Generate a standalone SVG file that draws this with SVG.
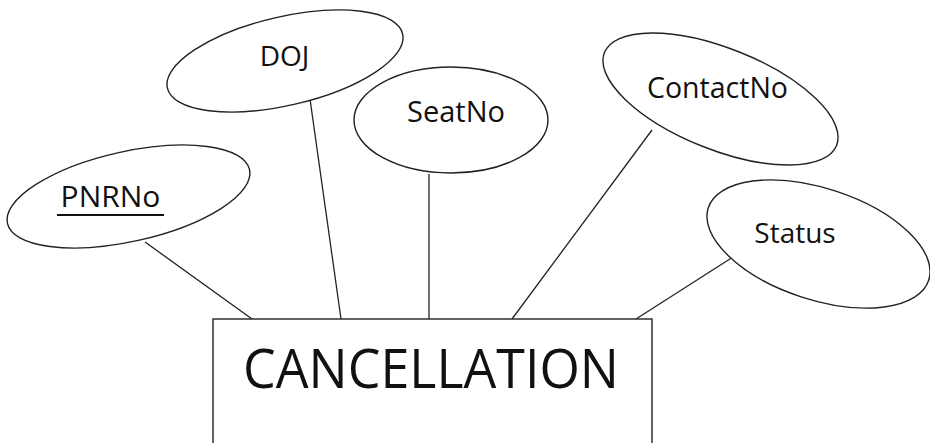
<svg xmlns="http://www.w3.org/2000/svg" width="930" height="443" viewBox="0 0 930 443">
<style>
.shape{fill:#fff;stroke:#222;stroke-width:1.4}
.conn{stroke:#222;stroke-width:1.3;fill:none}
.lbl{font-family:"Open Sans","Noto Sans",sans-serif;fill:#111;text-anchor:middle}
</style>
<rect x="0" y="0" width="930" height="443" fill="#fff"/>
<g id="connectors">
<line class="conn" x1="145" y1="242" x2="252" y2="319"/>
<line class="conn" x1="310" y1="99" x2="341" y2="319"/>
<line class="conn" x1="429" y1="174" x2="429" y2="319"/>
<line class="conn" x1="652" y1="130" x2="512" y2="319"/>
<line class="conn" x1="733" y1="257" x2="636" y2="319"/>
</g>
<g id="pnrno">
<ellipse class="shape" cx="128.5" cy="196.5" rx="124" ry="45" transform="rotate(-12.5 128.5 196.5)"/>
<text class="lbl" x="110.5" y="207" font-size="30">PNRNo</text>
<line x1="57" y1="215" x2="164" y2="215" stroke="#111" stroke-width="2"/>
</g>
<g id="doj">
<ellipse class="shape" cx="285" cy="61" rx="120.7" ry="44.3" transform="rotate(-13 285 61)"/>
<text class="lbl" x="284.5" y="66" font-size="28">DOJ</text>
</g>
<g id="seatno">
<ellipse class="shape" cx="451" cy="120" rx="97" ry="53"/>
<text class="lbl" x="456" y="122" font-size="29">SeatNo</text>
</g>
<g id="contactno">
<ellipse class="shape" cx="720.5" cy="99" rx="125" ry="50.6" transform="rotate(21.8 720.5 99)"/>
<text class="lbl" x="717.5" y="98" font-size="28.5">ContactNo</text>
</g>
<g id="status">
<ellipse class="shape" cx="818.5" cy="244" rx="116" ry="55.6" transform="rotate(18.2 818.5 244)"/>
<text class="lbl" x="795" y="243" font-size="28">Status</text>
</g>
<g id="cancellation">
<rect class="shape" x="213" y="319" width="439" height="140"/>
<text class="lbl" x="431" y="388" font-size="55" textLength="376" lengthAdjust="spacingAndGlyphs">CANCELLATION</text>
</g>
</svg>
